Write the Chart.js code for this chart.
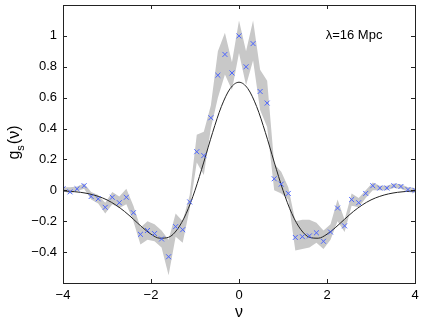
<!DOCTYPE html>
<html>
<head>
<meta charset="utf-8">
<script src="https://cdn.jsdelivr.net/npm/chart.js@4"></script>
<style>
  html, body { margin: 0; padding: 0; background: #fff; }
  #wrap { width: 425px; height: 323px; }
</style>
</head>
<body>
<div id="wrap"><canvas id="genus"></canvas></div>
<script>
// measured points, nu = -4 .. 4 in steps of 0.16
const nuPts = [-4, -3.84, -3.68, -3.52, -3.36, -3.2, -3.04, -2.88, -2.72, -2.56, -2.4, -2.24, -2.08, -1.92, -1.76, -1.6, -1.44, -1.28, -1.12, -0.96, -0.8, -0.64, -0.48, -0.32, -0.16, 0,
               0.16, 0.32, 0.48, 0.64, 0.8, 0.96, 1.12, 1.28, 1.44, 1.6, 1.76, 1.92, 2.08, 2.24, 2.4, 2.56, 2.72, 2.88, 3.04, 3.2, 3.36, 3.52, 3.68, 3.84, 4];
const gsMeasured = [0.01, -0.01, 0.01, 0.03, -0.04, -0.055, -0.11, -0.045, -0.08, -0.045, -0.145, -0.285, -0.26, -0.28, -0.315, -0.43, -0.235, -0.255, -0.075, 0.25, 0.225, 0.47, 0.745, 0.88, 0.76, 1.0,
                    0.8, 0.95, 0.64, 0.565, 0.075, 0.04, -0.02, -0.305, -0.3, -0.295, -0.275, -0.33, -0.27, -0.115, -0.23, -0.06, -0.08, -0.02, 0.03, 0.015, 0.015, 0.03, 0.025, 0.005, 0.0];
const bandUpper = [0.02, 0.02, 0.025, 0.045, -0.01, -0.03, -0.08, -0.01, -0.04, 0.01, -0.1, -0.24, -0.2, -0.22, -0.26, -0.32, -0.15, -0.2, -0.03, 0.36, 0.38, 0.55, 0.9, 1.02, 0.83, 1.1,
                   0.9, 1.1, 0.78, 0.71, 0.17, 0.12, 0.02, -0.2, -0.19, -0.19, -0.21, -0.26, -0.22, -0.06, -0.19, -0.02, -0.05, 0.0, 0.05, 0.03, 0.03, 0.045, 0.04, 0.02, 0.015];
const bandLower = [-0.005, -0.02, -0.005, 0.01, -0.06, -0.085, -0.15, -0.09, -0.115, -0.09, -0.2, -0.35, -0.32, -0.33, -0.37, -0.55, -0.3, -0.34, -0.12, 0.18, 0.1, 0.4, 0.6, 0.75, 0.65, 0.89,
                   0.68, 0.84, 0.52, 0.41, 0.0, -0.02, -0.06, -0.39, -0.38, -0.37, -0.34, -0.38, -0.32, -0.2, -0.27, -0.1, -0.11, -0.05, 0.0, 0.0, 0.0, 0.015, 0.01, -0.01, -0.015];

// theoretical curve
const nuCurve = [-4, -3.8, -3.6, -3.4, -3.2, -3, -2.8, -2.6, -2.4, -2.2, -2, -1.8, -1.6, -1.4, -1.2, -1, -0.8, -0.6, -0.4, -0.2, 0,
                 0.2, 0.4, 0.6, 0.8, 1, 1.2, 1.4, 1.6, 1.8, 2, 2.2, 2.4, 2.6, 2.8, 3, 3.2, 3.4, 3.6, 3.8, 4];
const gsCurve = [-0.004, -0.007, -0.013, -0.023, -0.039, -0.062, -0.095, -0.137, -0.187, -0.239, -0.284, -0.31, -0.304, -0.252, -0.15, 0, 0.183, 0.374, 0.543, 0.659, 0.7,
                 0.659, 0.543, 0.374, 0.183, 0, -0.15, -0.252, -0.304, -0.31, -0.284, -0.239, -0.187, -0.137, -0.095, -0.062, -0.039, -0.023, -0.013, -0.007, -0.004];

const xTicks = [-4, -2, 0, 2, 4];
const yTicks = [-0.4, -0.2, 0, 0.2, 0.4, 0.6, 0.8, 1];

const pts = (xs, ys) => xs.map((x, i) => ({ x: x, y: ys[i] }));
const fmt = v => String(parseFloat(v.toFixed(1))).replace('-', '\u2212');

const frame = {
    id: 'frame',
    afterDraw(chart) {
        const ctx = chart.ctx;
        const a = chart.chartArea;
        const sx = chart.scales.x, sy = chart.scales.y;
        ctx.save();
        ctx.strokeStyle = '#222';
        ctx.lineWidth = 1;
        ctx.beginPath();
        xTicks.forEach(t => {
            const p = Math.round(sx.getPixelForValue(t)) + 0.5;
            ctx.moveTo(p, a.bottom); ctx.lineTo(p, a.bottom - 4);
            ctx.moveTo(p, a.top); ctx.lineTo(p, a.top + 4);
        });
        yTicks.forEach(t => {
            const p = Math.round(sy.getPixelForValue(t)) + 0.5;
            ctx.moveTo(a.left, p); ctx.lineTo(a.left + 4, p);
            ctx.moveTo(a.right, p); ctx.lineTo(a.right - 4, p);
        });
        ctx.stroke();
        ctx.strokeRect(Math.round(a.left) + 0.5, Math.round(a.top) + 0.5, Math.round(a.right - a.left), Math.round(a.bottom - a.top));

        ctx.fillStyle = '#000';
        ctx.textBaseline = 'middle';
        ctx.font = '13px "Liberation Sans", Arial, sans-serif';
        ctx.textAlign = 'left';
        ctx.fillText('\u03bb=16 Mpc', sx.getPixelForValue(1.97), sy.getPixelForValue(1.0));

        // x axis title
        ctx.textAlign = 'center';
        ctx.font = '16px "Liberation Sans", Arial, sans-serif';
        ctx.fillText('\u03bd', sx.getPixelForValue(0), 313);

        // y axis title with subscript
        ctx.translate(15, 143);
        ctx.rotate(-Math.PI / 2);
        ctx.textAlign = 'left';
        const big = '16px "Liberation Sans", Arial, sans-serif';
        const small = '11px "Liberation Sans", Arial, sans-serif';
        ctx.font = big;
        const wg = ctx.measureText('g').width;
        const wp = ctx.measureText('(\u03bd)').width;
        ctx.font = small;
        const ws = ctx.measureText('s').width;
        let x0 = -(wg + ws + wp) / 2;
        ctx.font = big;
        ctx.fillText('g', x0, 0);
        ctx.font = small;
        ctx.fillText('s', x0 + wg, 6);
        ctx.font = big;
        ctx.fillText('(\u03bd)', x0 + wg + ws + 1, 0);
        ctx.restore();
    }
};

new Chart(document.getElementById('genus').getContext('2d'), {
    type: 'line',
    data: {
        datasets: [{
            label: 'measured',
            data: pts(nuPts, gsMeasured),
            showLine: false,
            pointStyle: 'crossRot',
            pointRadius: 3.5,
            pointBorderWidth: 1,
            pointBorderColor: 'rgb(75, 100, 255)',
            pointBackgroundColor: 'rgb(75, 100, 255)'
        },
        {
            label: 'theory',
            data: pts(nuCurve, gsCurve),
            borderColor: '#222',
            borderWidth: 1,
            pointRadius: 0,
            cubicInterpolationMode: 'monotone',
            fill: false
        },
        {
            label: 'upper',
            data: pts(nuPts, bandUpper),
            borderWidth: 0,
            borderColor: 'rgba(0,0,0,0)',
            pointRadius: 0,
            fill: false
        },
        {
            label: 'lower',
            data: pts(nuPts, bandLower),
            borderWidth: 0,
            borderColor: 'rgba(0,0,0,0)',
            backgroundColor: 'rgb(200, 200, 200)',
            pointRadius: 0,
            fill: '-1'
        }]
    },
    options: {
        responsive: true,
        maintainAspectRatio: false,
        animation: false,
        layout: { padding: { top: 3, right: 10, left: 0, bottom: 0 } },
        scales: {
            x: {
                type: 'linear',
                min: -4,
                max: 4,
                afterFit: s => { s.height = 40; s.paddingLeft = 0; s.paddingRight = 0; },
                grid: { display: false, drawTicks: false },
                border: { display: false },
                ticks: {
                    stepSize: 2,
                    padding: 5,
                    color: '#000',
                    font: { family: '"Liberation Sans", Arial, sans-serif', size: 13 },
                    callback: v => fmt(v)
                }
            },
            y: {
                min: -0.6,
                max: 1.2,
                afterFit: s => { s.width = 63; s.paddingTop = 0; s.paddingBottom = 0; },
                grid: { display: false, drawTicks: false },
                border: { display: false },
                ticks: {
                    stepSize: 0.2,
                    padding: 6,
                    color: '#000',
                    font: { family: '"Liberation Sans", Arial, sans-serif', size: 13 },
                    callback: v => (v < -0.5 || v > 1.1) ? '' : fmt(v)
                }
            }
        },
        plugins: {
            legend: { display: false },
            tooltip: { enabled: false }
        }
    },
    plugins: [frame]
});
</script>
</body>
</html>
